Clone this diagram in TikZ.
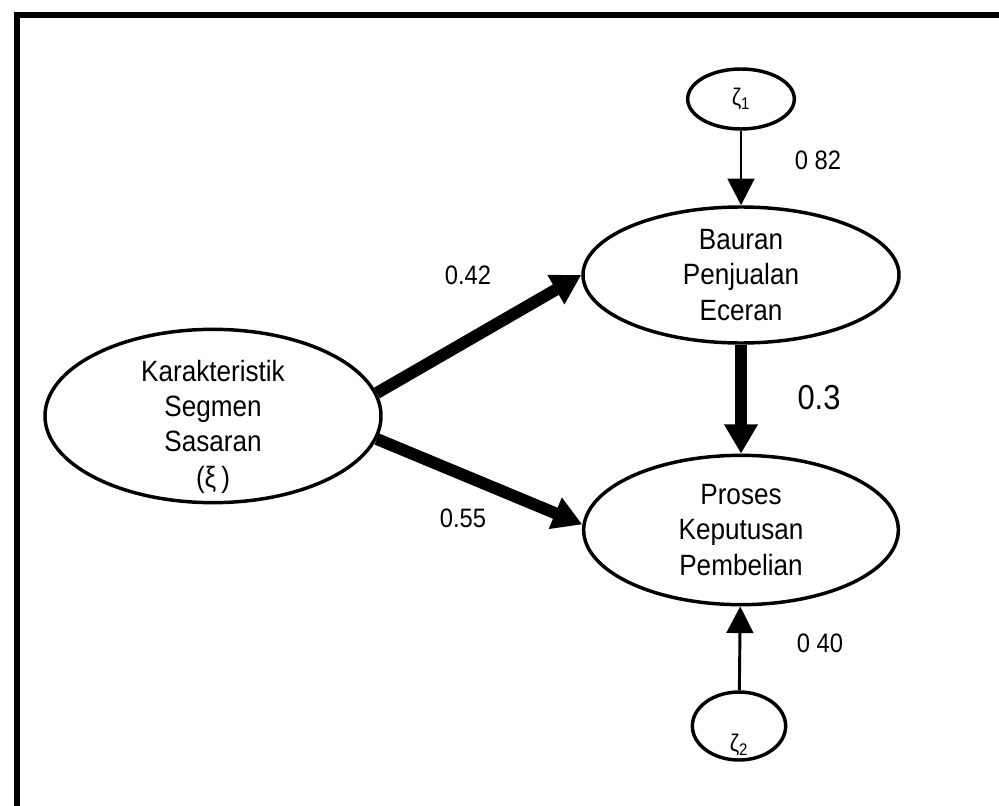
\documentclass[tikz,border=0pt]{standalone}
\usepackage{fontspec}
\setmainfont{Liberation Sans}[FakeStretch = 0.89]
\usetikzlibrary{shapes.geometric,arrows.meta}
\tikzset{vertex/.style = {shape = ellipse, draw, line width = 2.6pt, inner sep = 0pt}}
\tikzset{intext/.style = {align = center, font = \fontsize{22}{26.5}\selectfont}}
\tikzset{edge/.style = {-{Triangle[width = 20pt, length = 20pt]}, line width = 2.2pt}}
\tikzset{bigedge/.style = {-{Triangle[width = 24pt, length = 22pt]}, line width = 9pt}}
\tikzset{weight/.style = {font = \fontsize{20}{24}\selectfont}}

\begin{document}
\begin{tikzpicture}[x = 0.75pt, y = -0.75pt]
			\useasboundingbox (0, 0) rectangle (999, 806);
			\clip (0, 0) rectangle (999, 806);
			\draw[line width = 4.5pt] (17, 830) -- (17, 15) -- (1020, 15);

			\node[vertex, minimum width = 252pt, minimum height = 130pt,
				label = {[intext, yshift = -8pt]center:{Karakteristik\\Segmen\\Sasaran\\(ξ\,)}}] (kss) at (213, 416) {};
			\node[vertex, minimum width = 237pt, minimum height = 102pt,
				label = {[intext]center:{Bauran\\Penjualan\\Eceran}}] (bpe) at (741, 275) {};
			\node[vertex, minimum width = 236pt, minimum height = 112pt,
				label = {[intext]center:{Proses\\Keputusan\\Pembelian}}] (pkp) at (741, 530) {};
			\node[vertex, minimum width = 80pt, minimum height = 45pt,
				font = \fontsize{18}{20}\selectfont] (z1) at (741, 99) {ζ\textsubscript{1}};
			\node[vertex, minimum width = 70pt, minimum height = 51pt,
				label = {[font = \fontsize{18}{20}\selectfont, yshift = -14pt]center:{ζ\textsubscript{2}}}] (z2) at (739, 726) {};

			\node[weight] (w1) at (468, 275) {0.42};
			\node[weight] (w2) at (463, 518) {0.55};
			\node[weight] (w3) at (818, 160) {0 82};
			\node[font = \fontsize{26}{30}\selectfont] (w4) at (819, 398) {0.3};
			\node[weight] (w5) at (820, 643) {0 40};

			\draw[bigedge] (kss.8) to (bpe.west);
			\draw[bigedge] (kss.-8) to (pkp.178);
			\draw[bigedge] (bpe) to (pkp);
			\draw[edge] (z1) to (bpe);
			\draw[edge] (z2) to (pkp);
		\end{tikzpicture}
\end{document}
